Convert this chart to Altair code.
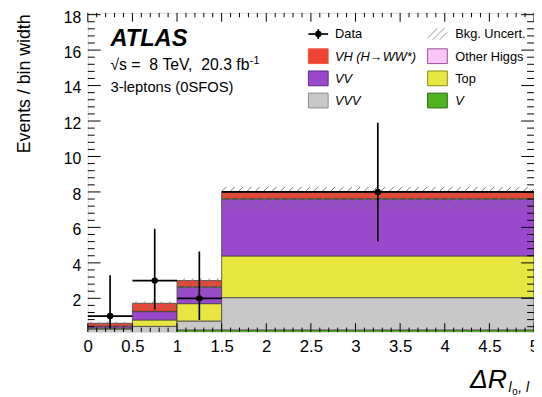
import altair as alt
import pandas as pd
import numpy as np

# ---------------- data ----------------
bin_lo = [0.0, 0.5, 1.0, 1.5]
bin_hi = [0.5, 1.0, 1.5, 5.0]
processes = ["V", "VVV", "Top", "VV", "Other Higgs", "VH"]
v_vals = [0.02, 0.0, 0.22, 0.22]
vvv_vals = [0.25, 0.42, 0.50, 1.82]
top_vals = [0.05, 0.36, 0.98, 2.35]
vv_vals = [0.10, 0.47, 0.93, 3.20]
oh_vals = [0.01, 0.02, 0.02, 0.03]
vh_vals = [0.16, 0.45, 0.35, 0.35]
proc_colors = ["#4FB41E", "#C8C8C8", "#E8E640", "#9A48CC", "#F8C6F8", "#EE4433"]

unc_lo = [0.35, 1.35, 2.30, 7.00]
unc_hi = [0.68, 1.82, 3.12, 8.28]

data_x = [0.25, 0.75, 1.25, 3.25]
data_y = [1.0, 3.0, 2.0, 8.0]
data_lo = [0.30, 1.37, 0.78, 5.20]
data_hi = [3.30, 5.92, 4.64, 11.90]

x_ticks_major = [0, 0.5, 1, 1.5, 2, 2.5, 3, 3.5, 4, 4.5, 5]
y_ticks_major = [2, 4, 6, 8, 10, 12, 14, 16, 18]

legend_labels = ["VH (H→WW*)", "Other Higgs", "VV", "Top", "VVV", "V"]
legend_colors = ["#EE4433", "#F8C6F8", "#9A48CC", "#E8E640", "#C8C8C8", "#4FB41E"]
legend_strokes = ["#EE5544", "#9A4A9A", "#5A2A8A", "#8A8A20", "#888888", "#2A6A10"]
legend_italic = [True, False, True, False, True, True]

# ---------------- geometry ----------------
W, H = 453, 324
XMIN, XMAX = 0.0, 5.0
YMIN, YMAX = 0.1, 18.1
xs = alt.Scale(domain=[XMIN, XMAX], nice=False, zero=False)
ys = alt.Scale(domain=[YMIN, YMAX], nice=False, zero=False)
FONT = "Liberation Sans"
NB = "\u00a0"

# stacked histogram table
rows = []
comp = [v_vals, vvv_vals, top_vals, vv_vals, oh_vals, vh_vals]
for b in range(len(bin_lo)):
    cum = 0.0
    for p, vals in zip(processes, comp):
        rows.append(dict(x0=bin_lo[b], x1=bin_hi[b], y0=cum, y1=cum + vals[b], proc=p))
        cum += vals[b]
stack = pd.DataFrame(rows)

bars = alt.Chart(stack).mark_rect(stroke="#444444", strokeWidth=0.8, clip=True).encode(
    x=alt.X("x0:Q", scale=xs, axis=alt.Axis(values=x_ticks_major, format="~g", ticks=False,
             domain=False, grid=False, labelFontSize=17, labelPadding=7, labelFlush=False,
             labelOverlap=False, title=None, labelFont=FONT, labelColor="black")),
    x2="x1:Q",
    y=alt.Y("y0:Q", scale=ys, axis=alt.Axis(values=y_ticks_major, format="d", ticks=False,
             domain=False, grid=False, labelFontSize=16, labelPadding=7, labelFlush=False,
             labelOffset=2.5, labelOverlap=False, title=None, labelFont=FONT, labelColor="black")),
    y2="y1:Q",
    color=alt.Color("proc:N", scale=alt.Scale(domain=processes, range=proc_colors), legend=None),
)

# hatched uncertainty band (diagonal lines "/")
sx = W / (XMAX - XMIN)
sy = H / (YMAX - YMIN)
spacing = 8.5
hatch = []
for b in range(len(bin_lo)):
    X0, X1 = bin_lo[b] * sx, bin_hi[b] * sx
    Y0, Y1 = unc_lo[b] * sy, unc_hi[b] * sy
    for k in range(-200, 200):
        c = k * spacing
        xa = max(X0, Y0 + c)
        xb = min(X1, Y1 + c)
        if xb > xa:
            hatch.append(dict(hx0=xa / sx, hx1=xb / sx, hy0=(xa - c) / sy, hy1=(xb - c) / sy))
hatch_df = pd.DataFrame(hatch)
hatch_layer = alt.Chart(hatch_df).mark_rule(color="#777777", strokeWidth=1).encode(
    x=alt.X("hx0:Q", scale=xs), x2="hx1:Q", y=alt.Y("hy0:Q", scale=ys), y2="hy1:Q")

# data points
dd = pd.DataFrame(dict(x=data_x, y=data_y, lo=data_lo, hi=data_hi, x0=bin_lo, x1=bin_hi))
verr = alt.Chart(dd).mark_rule(color="black", strokeWidth=1.7, clip=True).encode(
    x=alt.X("x:Q", scale=xs), y=alt.Y("lo:Q", scale=ys), y2="hi:Q")
herr = alt.Chart(dd).mark_rule(color="black", strokeWidth=1.7).encode(
    x=alt.X("x0:Q", scale=xs), x2="x1:Q", y=alt.Y("y:Q", scale=ys))
pts = alt.Chart(dd).mark_circle(color="black", size=42, opacity=1).encode(
    x=alt.X("x:Q", scale=xs), y=alt.Y("y:Q", scale=ys))

# inward ticks on all four sides
xmaj = pd.DataFrame(dict(v=x_ticks_major))
xmin_t = pd.DataFrame(dict(v=[round(v, 2) for v in np.arange(0.1, 5.0, 0.1) if abs(v * 2 - round(v * 2)) > 1e-6]))
ymaj = pd.DataFrame(dict(v=y_ticks_major))
ymin_t = pd.DataFrame(dict(v=[round(v, 2) for v in np.arange(0.4, 18.05, 0.4) if abs(v / 2 - round(v / 2)) > 1e-6]))

def xt(df, L):
    b = alt.Chart(df).mark_rule(color="black", strokeWidth=1).encode(
        x=alt.X("v:Q", scale=xs), y=alt.value(H - L), y2=alt.value(H))
    t = alt.Chart(df).mark_rule(color="black", strokeWidth=1).encode(
        x=alt.X("v:Q", scale=xs), y=alt.value(0), y2=alt.value(L))
    return b + t

def yt(df, L):
    l = alt.Chart(df).mark_rule(color="black", strokeWidth=1).encode(
        y=alt.Y("v:Q", scale=ys), x=alt.value(0), x2=alt.value(L))
    r = alt.Chart(df).mark_rule(color="black", strokeWidth=1).encode(
        y=alt.Y("v:Q", scale=ys), x=alt.value(W - L), x2=alt.value(W))
    return l + r

ticks = xt(xmaj, 9) + xt(xmin_t, 4.5) + yt(ymaj, 13) + yt(ymin_t, 7)

one = pd.DataFrame(dict(a=[0]))

def txt(s, x, y, size, italic=False, bold=False, align="left", angle=0, baseline="alphabetic"):
    kw = dict(text=s, fontSize=size, font=FONT, color="black", align=align, baseline=baseline)
    if italic:
        kw["fontStyle"] = "italic"
    if bold:
        kw["fontWeight"] = "bold"
    if angle:
        kw["angle"] = angle
    return alt.Chart(one).mark_text(**kw).encode(x=alt.value(x), y=alt.value(y))

sqrt_line = "√s" + NB + "=" + NB + NB + "8" + NB + "TeV," + NB + NB + "20.3" + NB + "fb"
annot = (
    txt("ATLAS", 23, 33.5, 24, italic=True, bold=True)
    + txt(sqrt_line, 23, 58.5, 16)
    + txt("-1", 164.5, 52, 11)
    + txt("3-leptons (0SFOS)", 23, 80.5, 15)
    + txt("Events / bin width", -64, 72, 18, align="center", angle=270, baseline="middle")
    + txt("ΔR", 388, 381, 27, italic=True)
    + txt("l", 427, 385, 14, italic=True)
    + txt("0", 431, 388, 10)
    + txt(", l", 437, 385, 14, italic=True)
)

# legend
row_y = [21.5, 44, 66.5, 89]
col_sw = [224, 345]
col_tx = [251, 373]
leg = []
# data entry
leg.append(alt.Chart(one).mark_rule(color="black", strokeWidth=1.7).encode(
    x=alt.value(col_sw[0]), x2=alt.value(col_sw[0] + 20), y=alt.value(row_y[0])))
leg.append(alt.Chart(one).mark_rule(color="black", strokeWidth=1.7).encode(
    x=alt.value(col_sw[0] + 10), y=alt.value(row_y[0] - 5), y2=alt.value(row_y[0] + 5)))
leg.append(alt.Chart(one).mark_circle(color="black", size=42, opacity=1).encode(
    x=alt.value(col_sw[0] + 10), y=alt.value(row_y[0])))
leg.append(txt("Data", col_tx[0], row_y[0] + 4.5, 13))
# bkg uncert entry
for k in range(3):
    x0 = col_sw[1] + k * 7 - 2
    leg.append(alt.Chart(one).mark_rule(color="#999999", strokeWidth=1).encode(
        x=alt.value(max(x0, col_sw[1])), x2=alt.value(min(x0 + 12, col_sw[1] + 20)),
        y=alt.value(row_y[0] + 6 - (max(x0, col_sw[1]) - x0)),
        y2=alt.value(row_y[0] + 6 - (min(x0 + 12, col_sw[1] + 20) - x0))))
leg.append(txt("Bkg. Uncert.", col_tx[1], row_y[0] + 4.5, 13))
for i, (lab, colr, strk, it) in enumerate(zip(legend_labels, legend_colors, legend_strokes, legend_italic)):
    r = 1 + i // 2
    c = i % 2
    leg.append(alt.Chart(one).mark_rect(fill=colr, stroke=strk, strokeWidth=1).encode(
        x=alt.value(col_sw[c]), x2=alt.value(col_sw[c] + 20),
        y=alt.value(row_y[r] - 7.5), y2=alt.value(row_y[r] + 7.5)))
    leg.append(txt(lab, col_tx[c], row_y[r] + 4.5, 13, italic=it))

legend_layer = alt.layer(*leg)

chart = alt.layer(bars, hatch_layer, herr, verr, pts, ticks, annot, legend_layer).properties(
    width=W, height=H,
    autosize=alt.AutoSizeParams(type="none"),
    padding={"left": 81, "top": 2, "right": 0, "bottom": 61},
).configure_view(stroke="black", strokeWidth=1).configure(font=FONT)

chart.save("out.html", embed_options={"renderer": "svg", "actions": False})
